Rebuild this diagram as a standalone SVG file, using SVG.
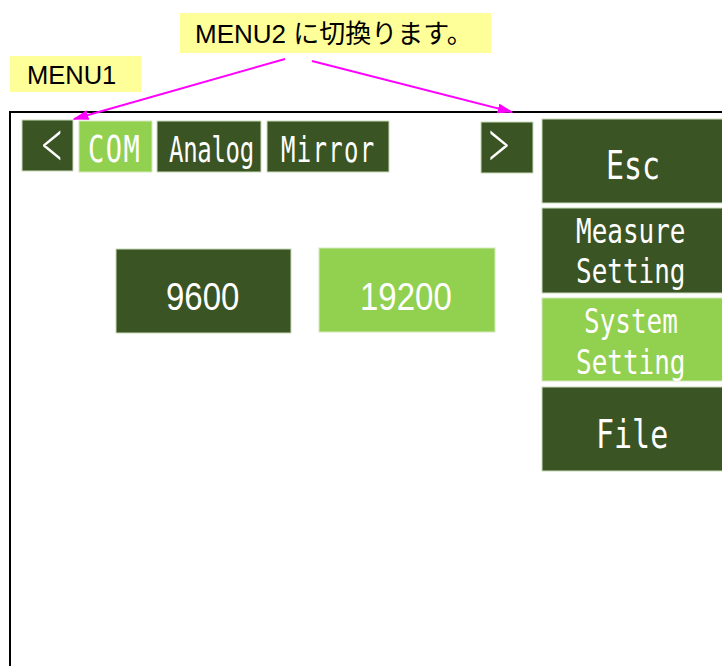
<svg xmlns="http://www.w3.org/2000/svg" width="722" height="666" viewBox="0 0 722 666">
<style>
.bg{fill:#ffffff}
.note{fill:#ffff99}
.nt{font-family:"Liberation Sans","Noto Sans CJK JP",sans-serif;fill:#000}
.dk{fill:#3a5424;stroke:#c9dbb8;stroke-width:1}
.lt{fill:#92d050;stroke:#d3e8bd;stroke-width:1}
.bt{font-family:"DejaVu Sans Mono","Liberation Mono",monospace;fill:#ffffff}
.num{font-family:"Liberation Sans",sans-serif;font-size:33px;fill:#ffffff}
.chev{font-family:"Lato","DejaVu Sans",sans-serif;font-weight:300;font-size:46px;fill:#ffffff}
.frame{fill:none;stroke:#000;stroke-width:2}
.arr{stroke:#ff00ff;stroke-width:2;fill:none;marker-end:url(#ah)}
</style>
<defs>
<marker id="ah" viewBox="0 0 10 10" refX="9" refY="5" markerWidth="16" markerHeight="10" markerUnits="userSpaceOnUse" orient="auto" preserveAspectRatio="none">
<path d="M0,0 L10,5 L0,10 z" fill="#ff00ff"/>
</marker>
</defs>
<rect class="bg" x="0" y="0" width="722" height="666"/>
<rect class="frame" x="10" y="112" width="740" height="600"/>

<g id="menu1-label">
<rect class="note" x="10" y="56" width="131" height="36"/>
<text class="nt" x="27" y="84" font-size="25.5">MENU1</text>
</g>
<g id="menu2-label">
<rect class="note" x="180" y="13" width="311" height="40"/>
<text class="nt" x="195" y="43" font-size="26">MENU2 に切換ります。</text>
</g>

<g id="btn-prev">
<rect class="dk" x="22" y="120" width="51" height="51"/>
<text class="chev" transform="translate(39,170) scale(1,1.6)">&lt;</text>
</g>
<g id="tab-com">
<rect class="lt" x="79" y="121" width="73" height="51"/>
<text class="bt" font-size="27" letter-spacing="1.5" transform="translate(88,162) scale(1,1.35)">COM</text>
</g>
<g id="tab-analog">
<rect class="dk" x="157" y="121" width="104" height="51"/>
<text class="bt" font-size="24" letter-spacing="-0.3" transform="translate(169,162) scale(1,1.5)">Analog</text>
</g>
<g id="tab-mirror">
<rect class="dk" x="267" y="121" width="122" height="51"/>
<text class="bt" font-size="24" letter-spacing="1.3" transform="translate(281,162) scale(1,1.5)">Mirror</text>
</g>
<g id="btn-next">
<rect class="dk" x="481" y="122" width="52" height="51"/>
<text class="chev" transform="translate(485,170) scale(1,1.6)">&gt;</text>
</g>

<g id="btn-esc">
<rect class="dk" x="542" y="119" width="190" height="84"/>
<text class="bt" font-size="30" transform="translate(606,179) scale(1,1.32)">Esc</text>
</g>
<g id="btn-measure">
<rect class="dk" x="542" y="208" width="190" height="85"/>
<text class="bt" font-size="26" transform="translate(576,243) scale(1,1.27)">Measure</text>
<text class="bt" font-size="26" transform="translate(576,283) scale(1,1.27)">Setting</text>
</g>
<g id="btn-system">
<rect class="lt" x="542" y="298" width="190" height="83"/>
<text class="bt" font-size="26" transform="translate(584,333) scale(1,1.27)">System</text>
<text class="bt" font-size="26" transform="translate(576,374) scale(1,1.27)">Setting</text>
</g>
<g id="btn-file">
<rect class="dk" x="542" y="387" width="190" height="84"/>
<text class="bt" font-size="30" transform="translate(596,448) scale(1,1.32)">File</text>
</g>

<g id="btn-9600">
<rect class="dk" x="116" y="249" width="175" height="84"/>
<text class="num" transform="translate(166,310) scale(1,1.2)">9600</text>
</g>
<g id="btn-19200">
<rect class="lt" x="319" y="248" width="176" height="84"/>
<text class="num" transform="translate(360,310) scale(1,1.2)">19200</text>
</g>

<g id="connectors">
<line class="arr" x1="285" y1="59" x2="74" y2="119"/>
<line class="arr" x1="312" y1="61" x2="512" y2="112"/>
</g>
</svg>
